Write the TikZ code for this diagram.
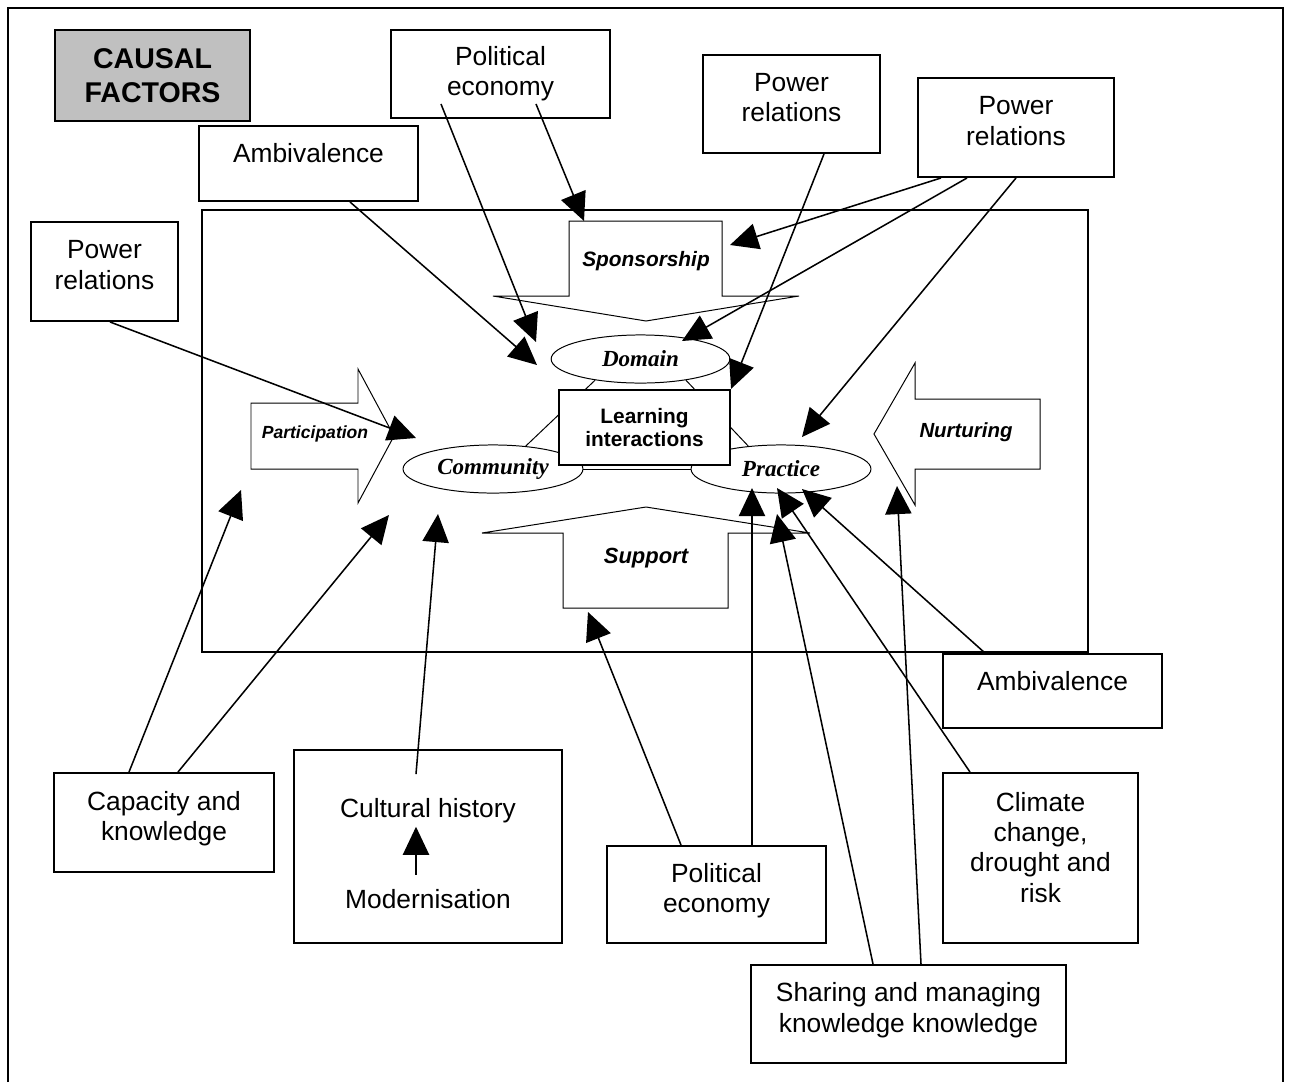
\documentclass[tikz,border=0pt]{standalone}
\usepackage{fontspec}
\setmainfont{Liberation Sans}
\newfontfamily\ellfont{Liberation Serif}
\usepackage{xcolor}
\usepackage{tikz}
\usetikzlibrary{arrows.meta,calc,shapes.geometric}
\definecolor{causalgrey}{RGB}{192,192,192}

\begin{document}
\begin{tikzpicture}[x=0.016cm, y=-0.016cm,
    every node/.style={align=center, inner sep=0pt},
    factor/.style={draw, line width=0.9pt, fill=white, text depth=6pt, font=\fontsize{12}{13.8}\selectfont},
    heading/.style={draw, line width=0.9pt, fill=causalgrey, font=\fontsize{13}{15.5}\selectfont\bfseries},
    element/.style={draw, ellipse, line width=0.45pt, minimum width=2.88cm, minimum height=0.77cm, font=\fontsize{10.5}{12}\ellfont\bfseries\itshape},
    learnbox/.style={draw, line width=1pt, fill=white, font=\fontsize{9.5}{10.9}\selectfont\bfseries},
    blockarrow/.style={draw, line width=0.45pt, fill=white},
    blocklabel/.style={font=\bfseries\itshape},
    cause/.style={-{Triangle[length=0.45cm,width=0.42cm]}, line width=0.7pt}]
    \useasboundingbox (0,0) rectangle (1290,1082);
    % frames
    \draw[line width=0.9pt] (8,1082) -- (8,8) -- (1283,8) -- (1283,1082);
    \draw[line width=0.7pt] (202,210) rectangle (1088,652);

    % block arrows round the learning interactions
    \draw[blockarrow] (569,221) -- (722,221) -- (722,296) -- (799,296) -- (646,321) -- (493,296) -- (569,296) -- cycle;
    \draw[blockarrow] (563,608) -- (728,608) -- (728,533) -- (810,533) -- (646,507) -- (482,533) -- (563,533) -- cycle;
    \draw[blockarrow] (251,403) -- (358,403) -- (358,369) -- (394,436) -- (358,503) -- (358,469) -- (251,469) -- cycle;
    \draw[blockarrow] (1040,399) -- (915,399) -- (915,363) -- (874,434) -- (915,505) -- (915,469) -- (1040,469) -- cycle;
    \node[blocklabel,font=\fontsize{9.5}{11}\selectfont\bfseries\itshape] (spon) at (646,261) {Sponsorship};
    \node[blocklabel,font=\fontsize{10}{12}\selectfont\bfseries\itshape] (supp) at (646,558) {Support};
    \node[blocklabel,font=\fontsize{8}{10}\selectfont\bfseries\itshape] (part) at (315,434) {Participation};
    \node[blocklabel,font=\fontsize{9.3}{11}\selectfont\bfseries\itshape] (nurt) at (966,432) {Nurturing};

    % domain, community, practice
    \node[element,minimum width=2.86cm] (dom) at (640.5,359) {Domain};
    \node[element] (com) at (493,469) {Community};
    \node[element] (prac) at (781,469) {Practice};
    \draw[line width=0.45pt] (dom.205) -- (com.35);
    \draw[line width=0.45pt] (dom.335) -- (prac.145);
    \draw[line width=0.45pt] (com.east) -- (prac.west);
    \node[learnbox,minimum width=2.736cm,minimum height=1.2cm] (learn) at (644.5,427.5) {Learning\\interactions};

    % causal factors
    \node[heading,minimum width=3.12cm,minimum height=1.456cm] (causal) at (152.5,75.5) {CAUSAL\\FACTORS};
    \node[factor,text depth=2.5pt,minimum width=3.504cm,minimum height=1.408cm] (pe1) at (500.5,74) {Political\\economy};
    \node[factor,text depth=9.5pt,minimum width=3.504cm,minimum height=1.2cm] (amb1) at (308.5,163.5) {Ambivalence};
    \node[factor,minimum width=2.832cm,minimum height=1.568cm] (pwm) at (791.5,104) {Power\\relations};
    \node[factor,minimum width=3.136cm,minimum height=1.584cm] (pwr) at (1016,127.5) {Power\\relations};
    \node[factor,minimum width=2.352cm,minimum height=1.584cm] (pwl) at (104.5,271.5) {Power\\relations};
    \node[factor,minimum width=3.52cm,minimum height=1.584cm] (cap) at (164,822.5) {Capacity and\\knowledge};
    \node[factor,minimum width=4.288cm,minimum height=3.088cm] (hist) at (428,846.5) {};
    \node[font=\fontsize{12}{13.8}\selectfont] (cul) at (428,811) {Cultural history};
    \node[font=\fontsize{12}{13.8}\selectfont] (mod) at (428,899) {Modernisation};
    \node[factor,minimum width=3.504cm,minimum height=1.552cm] (pe2) at (716.5,894.5) {Political\\economy};
    \node[factor,text depth=10pt,minimum width=3.12cm,minimum height=2.72cm] (clim) at (1040.5,858) {Climate\\change,\\drought and\\risk};
    \node[factor,text depth=9.5pt,minimum width=3.504cm,minimum height=1.184cm] (amb2) at (1052.5,691) {Ambivalence};
    \node[factor,minimum width=5.04cm,minimum height=1.568cm] (share) at (908.5,1014) {Sharing and managing\\knowledge knowledge};

    % arrow tips
    \coordinate (comNW) at (416,438);
    \coordinate (domW) at (537,365);
    \coordinate (domNW) at (536,342);
    \coordinate (sponTop) at (584,221);
    \coordinate (sponE) at (730,245);
    \coordinate (domNE) at (682,341);
    \coordinate (pracN) at (802,437);
    \coordinate (partB) at (241,490);
    \coordinate (comSW) at (389,515);
    \coordinate (comS) at (438,514);
    \coordinate (suppB) at (588,612);
    \coordinate (pracS1) at (752,488);
    \coordinate (pracS2) at (777,488);
    \coordinate (pracS3) at (802,489);
    \coordinate (pracS4) at (777,514);
    \coordinate (nurtB) at (897,486);

    \draw[cause] ($(pwl.south)+(5.5,0)$) -- (comNW);
    \draw[cause] ($(amb1.south)+(41.5,0)$) -- (domW);
    \draw[cause] ($(pe1.south)+(-59.5,-15)$) -- (domNW);
    \draw[cause] ($(pe1.south)+(35.5,-15)$) -- (sponTop);
    \draw[cause] ($(pwm.south)+(32.5,0)$) -- (learn.north east);
    \draw[cause] ($(pwr.south)+(-75,0)$) -- (sponE);
    \draw[cause] ($(pwr.south)+(-49,0)$) -- (domNE);
    \draw[cause] (pwr.south) -- (pracN);
    \draw[cause] ($(cap.north)+(-35,0)$) -- (partB);
    \draw[cause] ($(cap.north)+(14,0)$) -- (comSW);
    \draw[cause] ($(hist.north)+(-12,25)$) -- (comS);
    \draw[cause] ($(mod.north)+(-12,-14)$) -- ($(cul.south)+(-12,3)$);
    \draw[cause] ($(pe2.north)+(-35.5,0)$) -- (suppB);
    \draw[cause] ($(pe2.north)+(35.5,0)$) -- (pracS1);
    \draw[cause] ($(clim.north)+(-70.5,0)$) -- (pracS2);
    \draw[cause] ($(amb2.north)+(-67.5,0)$) -- (pracS3);
    \draw[cause] ($(share.north)+(-35.5,0)$) -- (pracS4);
    \draw[cause] ($(share.north)+(12.5,0)$) -- (nurtB);
  \end{tikzpicture}
\end{document}
